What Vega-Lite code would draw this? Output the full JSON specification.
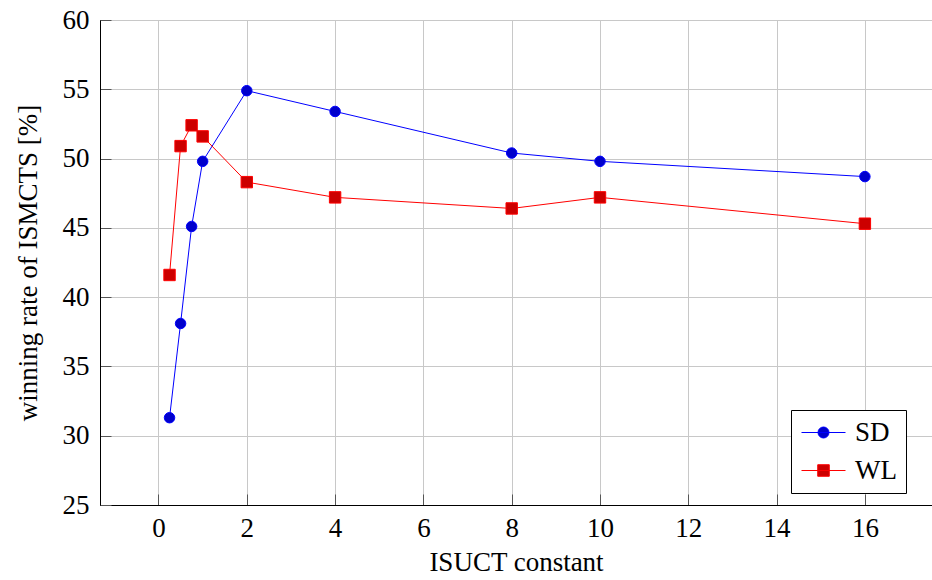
{
  "$schema": "https://vega.github.io/schema/vega-lite/v6.json",
  "width": 832,
  "height": 485,
  "autosize": {"type": "none"},
  "padding": {"left": 100, "top": 20, "right": 0, "bottom": 75},
  "background": "white",
  "config": {
    "font": "Liberation Serif, DejaVu Serif, serif",
    "view": {"stroke": "black", "strokeWidth": 1},
    "axis": {
      "labelFont": "Liberation Serif, DejaVu Serif, serif",
      "titleFont": "Liberation Serif, DejaVu Serif, serif",
      "labelFontSize": 27,
      "titleFontSize": 27,
      "titleFontWeight": "normal",
      "labelColor": "black",
      "titleColor": "black",
      "domainColor": "black",
      "tickColor": "#555555",
      "gridColor": "#c8c8c8",
      "gridWidth": 1,
      "gridOpacity": 1,
      "tickSize": -11,
      "tickWidth": 1
    },
    "legend": {
      "labelFont": "Liberation Serif, DejaVu Serif, serif",
      "labelFontSize": 27,
      "labelColor": "black"
    }
  },
  "data": {
    "values": [
      {"c": 0.25, "rate": 31.3, "series": "SD"},
      {"c": 0.5, "rate": 38.1, "series": "SD"},
      {"c": 0.75, "rate": 45.1, "series": "SD"},
      {"c": 1, "rate": 49.8, "series": "SD"},
      {"c": 2, "rate": 54.9, "series": "SD"},
      {"c": 4, "rate": 53.4, "series": "SD"},
      {"c": 8, "rate": 50.4, "series": "SD"},
      {"c": 10, "rate": 49.8, "series": "SD"},
      {"c": 16, "rate": 48.7, "series": "SD"},
      {"c": 0.25, "rate": 41.6, "series": "WL"},
      {"c": 0.5, "rate": 50.9, "series": "WL"},
      {"c": 0.75, "rate": 52.4, "series": "WL"},
      {"c": 1, "rate": 51.6, "series": "WL"},
      {"c": 2, "rate": 48.3, "series": "WL"},
      {"c": 4, "rate": 47.2, "series": "WL"},
      {"c": 8, "rate": 46.4, "series": "WL"},
      {"c": 10, "rate": 47.2, "series": "WL"},
      {"c": 16, "rate": 45.3, "series": "WL"}
    ]
  },
  "resolve": {"scale": {"shape": "independent", "fill": "independent", "stroke": "independent"}},
  "layer": [
    {
      "mark": {"type": "line", "strokeWidth": 1},
      "encoding": {
        "x": {
          "field": "c", "type": "quantitative",
          "scale": {"domain": [-1.325, 17.52], "nice": false, "zero": false},
          "axis": {"title": "ISUCT constant", "values": [0,2,4,6,8,10,12,14,16], "grid": true, "labelPadding": 21, "titlePadding": 8, "domain": true}
        },
        "y": {
          "field": "rate", "type": "quantitative",
          "scale": {"domain": [25, 60], "nice": false, "zero": false},
          "axis": {"title": "winning rate of ISMCTS [%]", "values": [25,30,35,40,45,50,55,60], "grid": true, "labelPadding": 22, "titlePadding": 20}
        },
        "color": {
          "field": "series", "type": "nominal",
          "scale": {"domain": ["SD", "WL"], "range": ["#0000ff", "#ff0000"]},
          "legend": null
        }
      }
    },
    {
      "mark": {"type": "point", "filled": false, "strokeWidth": 1, "opacity": 1},
      "encoding": {
        "x": {"field": "c", "type": "quantitative"},
        "y": {"field": "rate", "type": "quantitative"},
        "shape": {
          "field": "series", "type": "nominal",
          "scale": {"domain": ["SD", "WL"], "range": ["circle", "square"]},
          "legend": null
        },
        "size": {
          "field": "series", "type": "nominal",
          "scale": {"domain": ["SD", "WL"], "range": [110, 130]},
          "legend": null
        },
        "fill": {
          "field": "series", "type": "nominal",
          "scale": {"domain": ["SD", "WL"], "range": ["#0000cc", "#cc0000"]},
          "legend": null
        },
        "stroke": {
          "field": "series", "type": "nominal",
          "scale": {"domain": ["SD", "WL"], "range": ["#0000ff", "#ff0000"]},
          "legend": null
        }
      }
    },
    {
      "transform": [{"filter": "false"}],
      "mark": {"type": "point", "strokeWidth": 1, "opacity": 1},
      "encoding": {
        "x": {"field": "c", "type": "quantitative"},
        "y": {"field": "rate", "type": "quantitative"},
        "shape": {
          "field": "series", "type": "nominal",
          "scale": {"domain": ["SD", "WL"], "range": ["M -4 0 H 4 M 1 0 A 1 1 0 1 1 -1 0 A 1 1 0 1 1 1 0 Z", "M -4 0 H 4 M -1.05 -1.05 H 1.05 V 1.05 H -1.05 Z"]},
          "legend": {
            "title": null, "orient": "none", "legendX": 691, "legendY": 390,
            "strokeColor": "black", "fillColor": "white", "padding": 9,
            "symbolSize": 121, "symbolStrokeWidth": 1, "symbolOffset": 10,
            "labelOffset": 18, "rowPadding": 10
          }
        },
        "fill": {
          "field": "series", "type": "nominal",
          "scale": {"domain": ["SD", "WL"], "range": ["#0000cc", "#cc0000"]},
          "legend": {
            "title": null, "orient": "none", "legendX": 691, "legendY": 390,
            "strokeColor": "black", "fillColor": "white", "padding": 9,
            "symbolSize": 121, "symbolStrokeWidth": 1, "symbolOffset": 10,
            "labelOffset": 18, "rowPadding": 10
          }
        },
        "stroke": {
          "field": "series", "type": "nominal",
          "scale": {"domain": ["SD", "WL"], "range": ["#0000ff", "#ff0000"]},
          "legend": {
            "title": null, "orient": "none", "legendX": 691, "legendY": 390,
            "strokeColor": "black", "fillColor": "white", "padding": 9,
            "symbolSize": 121, "symbolStrokeWidth": 1, "symbolOffset": 10,
            "labelOffset": 18, "rowPadding": 10
          }
        }
      }
    }
  ]
}
